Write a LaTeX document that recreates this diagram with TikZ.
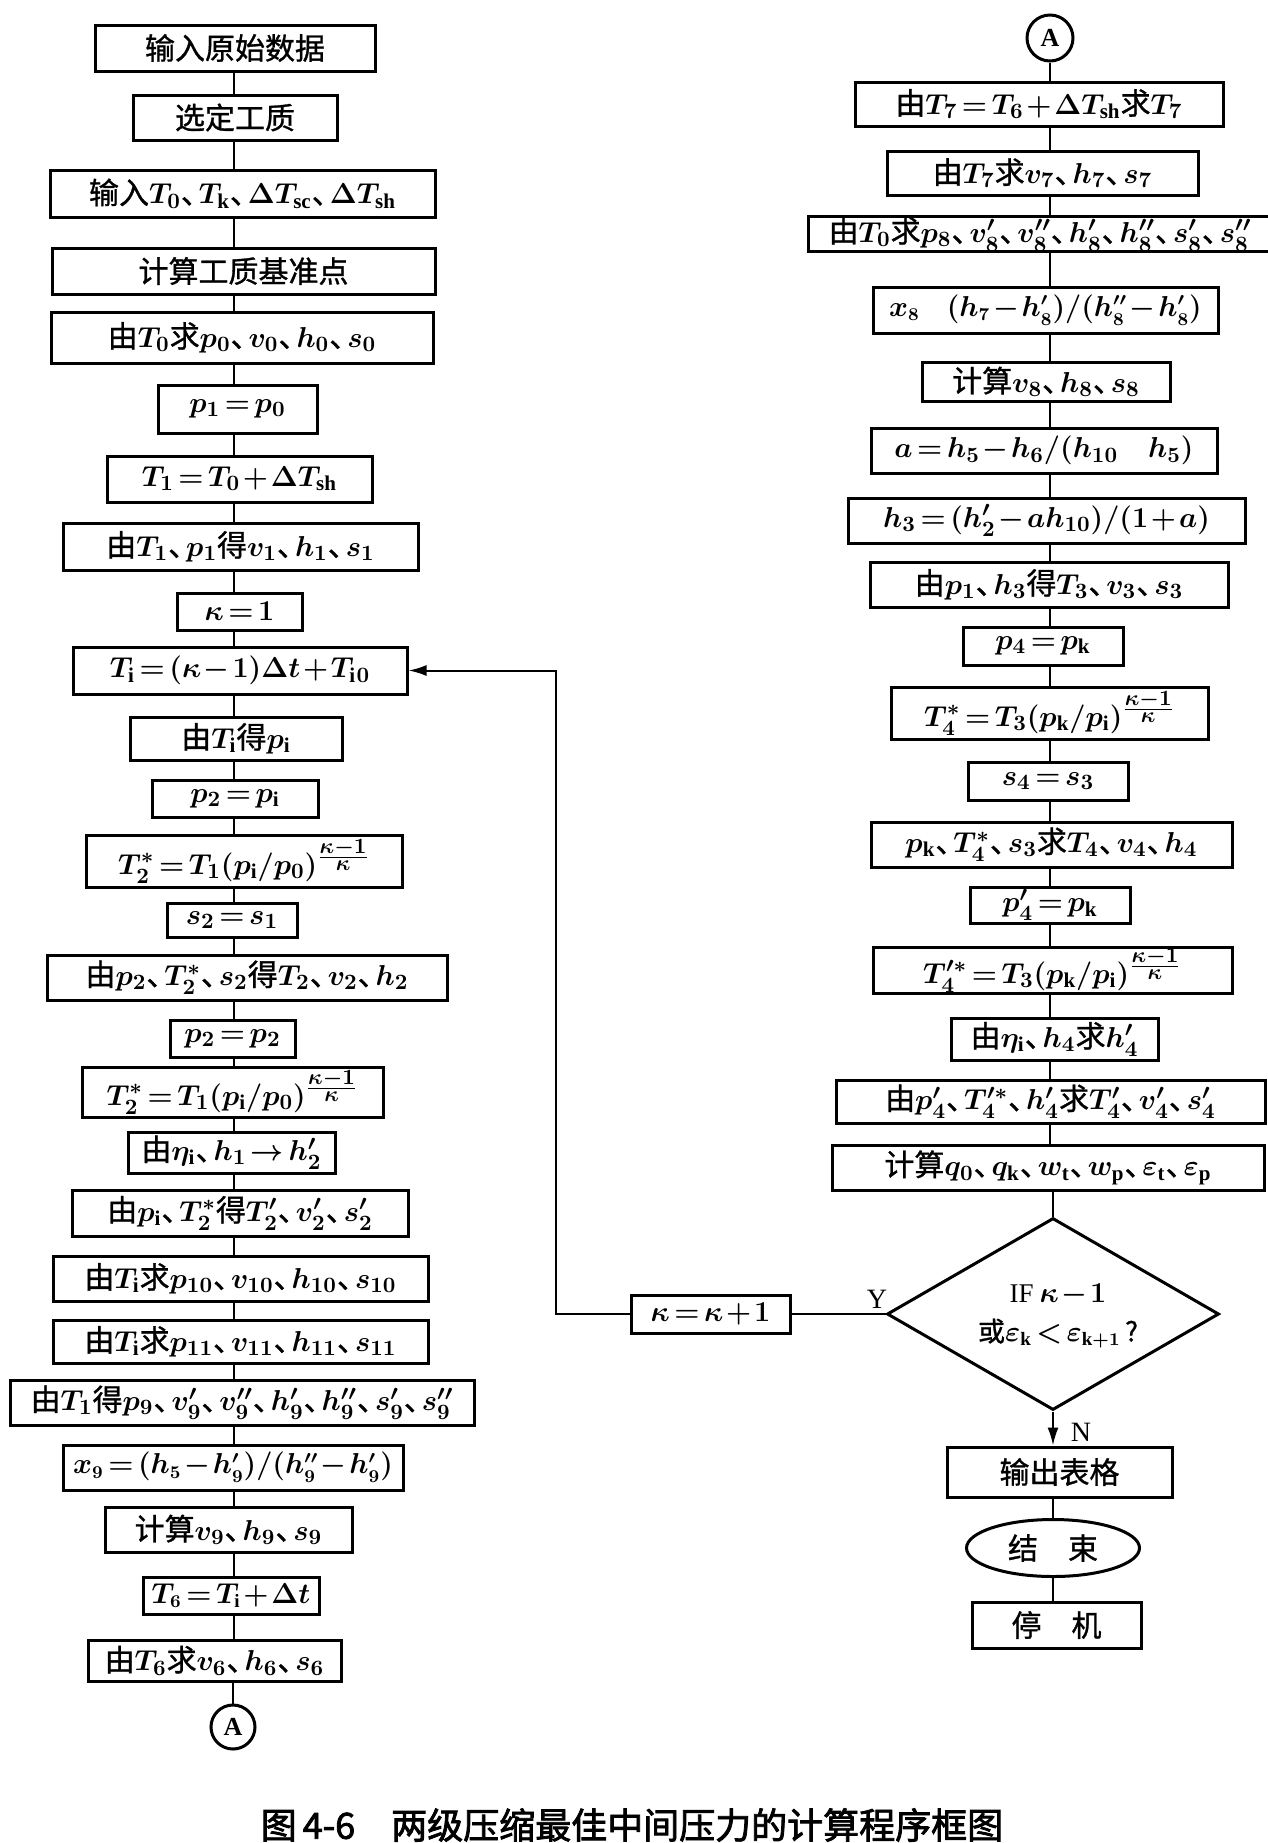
\documentclass[tikz,border=0pt]{standalone}
\usepackage{fontspec}
\setmainfont{Noto Sans CJK SC}[FakeBold=1]
\setmathrm{Liberation Serif}
\newfontfamily\lat{Liberation Serif}
\newfontfamily\cjkb{Noto Sans CJK SC}[FakeBold=2.2]
\usetikzlibrary{shapes.geometric,arrows.meta}
\newcommand\dun{\makebox[0.6em][l]{、}}
\newcommand\bx[6]{%
  \pgfmathsetmacro\bw{(#4-#2)*0.5}%
  \pgfmathsetmacro\bh{(#5-#3)*0.5}%
  \node[box,minimum width=\bw pt,minimum height=\bh pt] (#1) at ({(#2+#4)/2},{(#3+#5)/2}) {#6};}
\newcommand\ex{\frac{\scriptstyle\kappa-1}{\scriptstyle\kappa}}
\newcommand\tightmath{\thickmuskip=2.5mu\medmuskip=1.5mu\thinmuskip=1mu}
\newcommand\smf{\fontsize{13.5}{15}\selectfont}
\begin{document}
\begin{tikzpicture}[x=0.5pt,y=-0.5pt,
  box/.style={draw,line width=1.5pt,inner sep=0pt,font=\fontsize{15}{17}\selectfont\boldmath\tightmath},
  conn/.style={line width=1pt},
  arr/.style={line width=1pt,-{Latex[length=9pt,width=5.5pt]}},
  lab/.style={font=\lat\fontsize{14}{16}\selectfont,inner sep=0pt}]
\useasboundingbox (0,0) rectangle (1268,1843);
\fill[white] (0,0) rectangle (1268,1843);
\coordinate (spL) at (234,0);
\coordinate (spR) at (1050,0);
% left column
\bx{L1}{95}{25}{375}{71}{输入原始数据}
\bx{L2}{133}{95}{337}{140}{选定工质}
\bx{L3}{50}{170}{435}{217}{输入$T_0$\dun$T_\mathrm{k}$\dun$\Delta T_\mathrm{sc}$\dun$\Delta T_\mathrm{sh}$}
\bx{L4}{52}{248}{435}{294}{计算工质基准点}
\bx{L5}{51}{312}{433}{363}{由$T_0$求$p_0$\dun$v_0$\dun$h_0$\dun$s_0$}
\bx{L6}{158}{385}{317}{433}{$p_1=p_0$}
\bx{L7}{107}{456}{372}{502}{$T_1=T_0+\Delta T_\mathrm{sh}$}
\bx{L8}{63}{523}{418}{570}{由$T_1$\dun$p_1$得$v_1$\dun$h_1$\dun$s_1$}
\bx{L9}{177}{593}{302}{630}{$\kappa=1$}
\bx{L10}{73}{647}{407}{694}{$T_\mathrm{i}=(\kappa-1)\Delta t+T_{\mathrm{i}\,0}$}
\bx{L11}{130}{717}{342}{760}{由$T_\mathrm{i}$得$p_\mathrm{i}$}
\bx{L12}{152}{780}{318}{817}{$p_2=p_\mathrm{i}$}
\bx{L13}{86}{835}{402}{887}{$T_2^*=T_1(p_\mathrm{i}/p_0)^{\ex}$}
\bx{L14}{167}{903}{297}{937}{$s_2=s_1$}
\bx{L15}{47}{955}{447}{1000}{由$p_2$\dun$T_2^*$\dun$s_2$得$T_2$\dun$v_2$\dun$h_2$}
\bx{L16}{170}{1020}{295}{1057}{$p_2=p_2$}
\bx{L17}{82}{1067}{383}{1117}{$T_2^*=T_1(p_\mathrm{i}/p_0)^{\ex}$}
\bx{L18}{128}{1132}{335}{1173}{由$\eta_\mathrm{i}$\dun$h_1\rightarrow h_2'$}
\bx{L19}{72}{1190}{408}{1236}{由$p_\mathrm{i}$\dun$T_2^*$得$T_2'$\dun$v_2'$\dun$s_2'$}
\bx{L20}{53}{1256}{428}{1301}{由$T_\mathrm{i}$求$p_{10}$\dun$v_{10}$\dun$h_{10}$\dun$s_{10}$}
\bx{L21}{53}{1320}{428}{1363}{由$T_\mathrm{i}$求$p_{11}$\dun$v_{11}$\dun$h_{11}$\dun$s_{11}$}
\bx{L22}{10}{1380}{474}{1425}{由$T_1$得$p_9$\dun$v_9'$\dun$v_9''$\dun$h_9'$\dun$h_9''$\dun$s_9'$\dun$s_9''$}
\bx{L23}{63}{1445}{403}{1490}{\smf$x_9=(h_5-h_9')/(h_9''-h_9')$}
\bx{L24}{105}{1507}{352}{1552}{计算$v_9$\dun$h_9$\dun$s_9$}
\bx{L25}{143}{1577}{319}{1614}{\smf$T_6=T_\mathrm{i}+\Delta t$}
\bx{L26}{88}{1640}{341}{1681}{由$T_6$求$v_6$\dun$h_6$\dun$s_6$}
\node[circle,draw,line width=1.5pt,minimum size=22pt,inner sep=0pt,font=\lat\bfseries\fontsize{13}{15}\selectfont] (Ab) at (233,1727) {A};
% right column
\node[circle,draw,line width=1.5pt,minimum size=23pt,inner sep=0pt,font=\lat\bfseries\fontsize{13}{15}\selectfont] (At) at (1050,38) {A};
\bx{R1}{855}{82}{1223}{126}{由$T_7=T_6+\Delta T_\mathrm{sh}$求$T_7$}
\bx{R2}{887}{151}{1198}{195}{由$T_7$求$v_7$\dun$h_7$\dun$s_7$}
\bx{R3}{808}{217}{1272}{251}{由$T_0$求$p_8$\dun$v_8'$\dun$v_8''$\dun$h_8'$\dun$h_8''$\dun$s_8'$\dun$s_8''$\hspace{14pt}}
\bx{R4}{873}{287}{1218}{333}{\smf$x_8\quad(h_7-h_8')/(h_8''-h_8')$}
\bx{R5}{922}{362}{1170}{401}{计算$v_8$\dun$h_8$\dun$s_8$}
\bx{R6}{871}{428}{1217}{473}{$a=h_5-h_6/(h_{10}\quad h_5)$}
\bx{R7}{848}{498}{1245}{543}{$h_3=(h_2'-ah_{10})/(1+a)$}
\bx{R8}{870}{562}{1228}{607}{由$p_1$\dun$h_3$得$T_3$\dun$v_3$\dun$s_3$}
\bx{R9}{963}{627}{1123}{665}{$p_4=p_\mathrm{k}$}
\bx{R10}{891}{687}{1208}{739}{$T_4^*=T_3(p_\mathrm{k}/p_\mathrm{i})^{\ex}$}
\bx{R11}{968}{762}{1128}{800}{$s_4=s_3$}
\bx{R12}{871}{822}{1232}{867}{$p_\mathrm{k}$\dun$T_4^*$\dun$s_3$求$T_4$\dun$v_4$\dun$h_4$}
\bx{R13}{970}{887}{1130}{923}{$p_4'=p_\mathrm{k}$}
\bx{R14}{873}{947}{1232}{993}{$T_4'^*=T_3(p_\mathrm{k}/p_\mathrm{i})^{\ex}$}
\bx{R15}{951}{1018}{1158}{1060}{由$\eta_\mathrm{i}$\dun$h_4$求$h_4'$}
\bx{R16}{836}{1080}{1265}{1123}{由$p_4'$\dun$T_4'^*$\dun$h_4'$求$T_4'$\dun$v_4'$\dun$s_4'$}
\bx{R17}{832}{1145}{1264}{1190}{计算$q_0$\dun$q_\mathrm{k}$\dun$w_\mathrm{t}$\dun$w_\mathrm{p}$\dun$\varepsilon_\mathrm{t}$\dun$\varepsilon_\mathrm{p}$}
\node[diamond,draw,line width=1.5pt,minimum width=166pt,minimum height=96pt,aspect=1.7,inner sep=0pt] (D) at (1053,1314) {};
\node[align=center,font=\fontsize{13.5}{19.5}\selectfont\boldmath\tightmath,inner sep=0pt] (Dt) at (1058,1316) {{\lat IF} $\kappa-1$\\或$\varepsilon_\mathrm{k}<\varepsilon_{\mathrm{k}+1}$\,?};
\bx{R18}{947}{1447}{1172}{1497}{输出表格}
\node[ellipse,draw,line width=1.5pt,minimum width=86.5pt,minimum height=28.5pt,inner sep=0pt,font=\fontsize{15}{17}\selectfont] (E) at (1053,1548) {结\quad 束};
\bx{R19}{972}{1602}{1141}{1648}{停\quad 机}
\bx{K}{631}{1295}{790}{1333}{$\kappa=\kappa+1$}
% connectors left
\foreach \a/\b in {L1/L2,L2/L3,L3/L4,L4/L5,L5/L6,L6/L7,L7/L8,L8/L9,L9/L10,L10/L11,L11/L12,L12/L13,L13/L14,L14/L15,L15/L16,L16/L17,L17/L18,L18/L19,L19/L20,L20/L21,L21/L22,L22/L23,L23/L24,L24/L25,L25/L26}
  \draw[conn] (\a.south -| spL) -- (\b.north -| spL);
\draw[conn] (L26.south -| Ab) -- (Ab.north);
% connectors right
\draw[conn] (At.south) -- (R1.north -| At);
\foreach \a/\b in {R1/R2,R2/R3,R3/R4,R4/R5,R5/R6,R6/R7,R7/R8,R8/R9,R9/R10,R10/R11,R11/R12,R12/R13,R13/R14,R14/R15,R15/R16,R16/R17}
  \draw[conn] (\a.south -| spR) -- (\b.north -| spR);
\draw[conn] (R17.south -| D.north) -- (D.north);
\draw[arr] (D.south) -- (R18.north -| D.south);
\draw[conn] (R18.south -| E.north) -- (E.north);
\draw[conn] (E.south) -- (R19.north -| E.south);
% loop
\coordinate (lp) at (556,1314);
\draw[conn] (D.west) -- (K.east);
\draw[arr] (K.west) -- (lp) |- (L10.east);
\node[lab] (Y) at (877,1299) {Y};
\node[lab] (N) at (1081,1432) {N};
% caption
\node[font=\cjkb\fontsize{18}{20}\selectfont,inner sep=0pt] (cap) at (632,1825) {图\,4-6\quad 两级压缩最佳中间压力的计算程序框图};
\end{tikzpicture}
\end{document}
